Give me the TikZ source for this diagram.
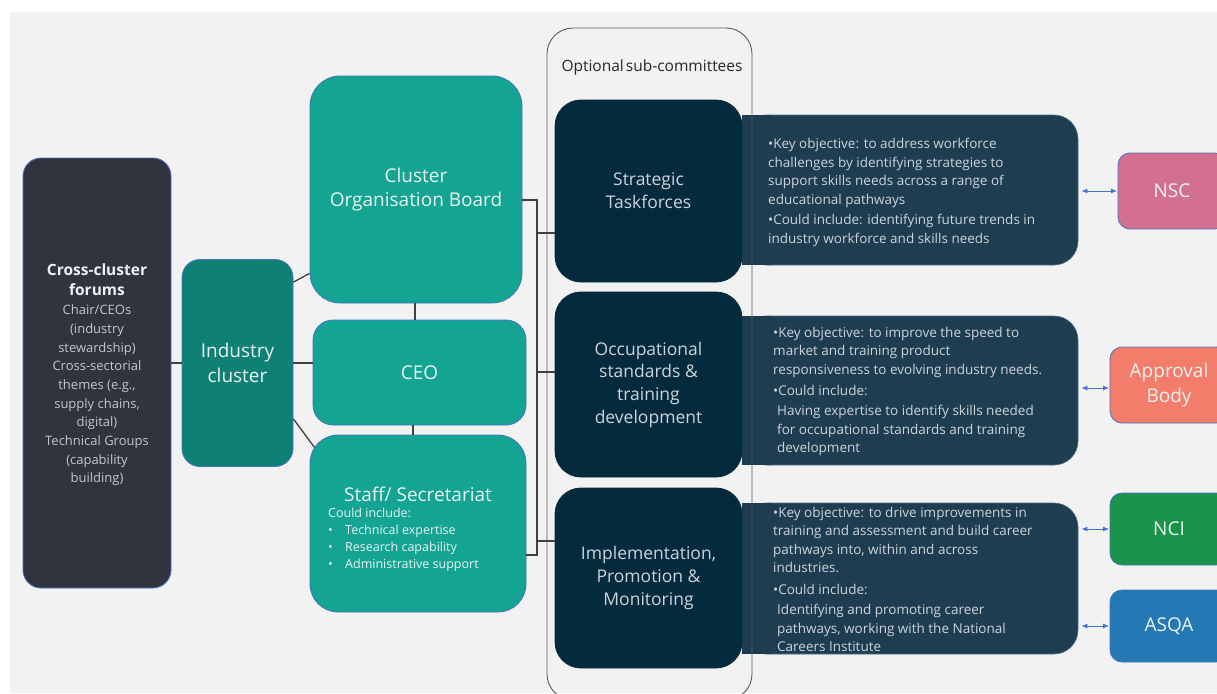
\documentclass[tikz,border=0pt]{standalone}
\usepackage{fontspec}
\setmainfont{Open Sans}
\usetikzlibrary{arrows.meta,calc}
\definecolor{bgc}{HTML}{F2F2F2}
\definecolor{ccfc}{HTML}{31343F}
\definecolor{icc}{HTML}{0F8174}
\definecolor{tealc}{HTML}{14A492}
\definecolor{subc}{HTML}{042A3D}
\definecolor{descc}{HTML}{1E3D50}
\definecolor{descedge}{HTML}{4A6E8E}
\definecolor{nscc}{HTML}{D4708F}
\definecolor{apc}{HTML}{F47C6B}
\definecolor{ncic}{HTML}{1C934A}
\definecolor{asqac}{HTML}{2479B4}
\definecolor{edgeblue}{HTML}{4472C4}
\definecolor{connc}{HTML}{404040}
\definecolor{contc}{HTML}{5A5A5A}
\definecolor{lighttext}{HTML}{EAF3F2}
\definecolor{greytext}{HTML}{C6C6C8}
\definecolor{desctext}{HTML}{CCD4DA}
\begin{document}
\begin{tikzpicture}[x=1pt,y=-1pt,
  box/.style={draw=edgeblue, line width=0.8pt, inner sep=0pt, align=center, text=lighttext},
  conn/.style={draw=connc, line width=1.3pt},
  link/.style={{Latex[length=6pt,width=5pt]}-{Latex[length=6pt,width=5pt]}, draw=edgeblue, line width=1pt, shorten <=3pt, shorten >=0.5pt},
  big/.style={font=\fontsize{19}{24.5}\selectfont},
  subfont/.style={font=\fontsize{17.5}{22.7}\selectfont},
  desctxt/.style={anchor=north west, inner sep=0pt, align=left, text=desctext, font=\fontsize{13.5}{18.5}\selectfont},
  descbox/.style={fill=descc, draw=descedge, line width=0.6pt, rounded corners=24pt, inner sep=0pt},
  subbox/.style={box, fill=subc, draw=subc, rounded corners=26pt, minimum width=187pt, text=desctext, subfont}
]
\useasboundingbox (0,0) rectangle (1217,693);
\clip (0,0) rectangle (1217,693);
\fill[white] (0,0) rectangle (1217,693);
\fill[bgc] (10,12) rectangle (1217,693);

% left column
\node[box, fill=ccfc, rounded corners=18pt, minimum width=148pt, minimum height=430pt] (ccf) at (97,373) {};
\node[align=center, inner sep=0pt, text=greytext, font=\fontsize{13}{18.7}\selectfont] (ccft) at (97,375)
 {{\color{lighttext}\bfseries\fontsize{15.5}{20}\selectfont Cross-cluster}\\[1.5pt]
  {\color{lighttext}\bfseries\fontsize{15.5}{20}\selectfont forums}\\
  Chair/CEOs\\(industry\\stewardship)\\Cross-sectorial\\themes (e.g.,\\supply chains,\\digital)\\Technical Groups\\(capability\\building)};

\node[box, fill=icc, rounded corners=18pt, minimum width=111pt, minimum height=207pt, big] (ic) at (237.5,363) {Industry\\cluster};

\node[box, fill=tealc, rounded corners=30pt, minimum width=212pt, minimum height=227pt, big] (cob) at (416,189.5) {Cluster\\Organisation Board};
\node[box, fill=tealc, rounded corners=20pt, minimum width=213pt, minimum height=105pt, big] (ceo) at (419.5,372.5) {CEO};
\node[box, fill=tealc, rounded corners=28pt, minimum width=216pt, minimum height=177pt] (staff) at (418,523.5) {};
\node[inner sep=0pt, text=lighttext, font=\fontsize{19}{22}\selectfont] (stafft) at (418,494) {Staff/ Secretariat};
\node[anchor=north west, inner sep=0pt, align=left, text=lighttext, font=\fontsize{12.5}{17}\selectfont] (staffl) at (328,508)
 {Could include:\\
  \makebox[17pt][l]{\textbullet}Technical expertise\\
  \makebox[17pt][l]{\textbullet}Research capability\\
  \makebox[17pt][l]{\textbullet}Administrative support};

% connectors on the left
\draw[conn] (ccf.east |- ic.west) -- (ic.west);
\draw[conn] ([yshift=-23pt]ic.north east) -- ([yshift=30pt]cob.south west);
\draw[conn] (ic.east) -- (ceo.west |- ic.east);
\draw[conn] ([yshift=48pt]ic.south east) -- ([xshift=5pt,yshift=-13pt]staff.north west);
\draw[conn] ([xshift=-1pt]cob.south) -- ([xshift=-1pt]cob.south |- ceo.north);
\draw[conn] ([xshift=-6.5pt]ceo.south) -- ([xshift=-6.5pt]ceo.south |- staff.north);

% description boxes
\node[descbox, minimum width=336pt, minimum height=150pt] (d1) at (910,190) {};
\fill[descc] (d1.north west) rectangle ([xshift=30pt]d1.south west);
\node[descbox, minimum width=336pt, minimum height=149pt] (d2) at (910,390.5) {};
\fill[descc] (d2.north west) rectangle ([xshift=30pt]d2.south west);
\node[descbox, minimum width=336pt, minimum height=151pt] (d3) at (910,578.5) {};
\fill[descc] (d3.north west) rectangle ([xshift=30pt]d3.south west);

% sub-committee boxes
\node[subbox, minimum height=182pt] (st) at (648.5,191) {Strategic\\Taskforces};
\node[subbox, minimum height=185pt] (osd) at (648.5,384.5) {Occupational\\standards \&\\training\\development};
\node[subbox, minimum height=180pt] (ipm) at (648.5,578) {Implementation,\\Promotion \&\\Monitoring};

% container
\node[draw=contc, line width=0.9pt, rounded corners=26pt, minimum width=205pt, minimum height=672pt, inner sep=0pt] (cont) at (649.5,364) {};
\node[inner sep=0pt, text=black!85, font=\fontsize{15.5}{18}\selectfont] (contl) at (652,67) {Optional\hspace{2pt}sub-committees};

% bracket
\coordinate (bt) at (537,200);
\coordinate (bb) at (537,555);
\draw[conn, line width=1.1pt] (cob.east |- bt) -- (bt) -- (bb) -- (staff.east |- bb);
\draw[conn, line width=1.1pt] (bt |- 0,233) -- (st.west |- 0,233);
\draw[conn, line width=1.1pt] (bt |- 0,372) -- (osd.west |- 0,372);
\draw[conn, line width=1.1pt] (bt |- 0,541) -- (ipm.west |- 0,541);

% description texts
\node[desctxt] (d1t) at (768,138)
 {\textbullet Key objective: to address workforce\\
  challenges by identifying strategies to\\
  support skills needs across a range of\\
  educational pathways\\[2pt]
  \textbullet Could include: identifying future trends in\\
  industry workforce and skills needs};
\node[desctxt] (d2t) at (773,327)
 {\textbullet Key objective: to improve the speed to\\
  market and training product\\
  responsiveness to evolving industry needs.\\[3pt]
  \textbullet Could include:\\[1.5pt]
  \hspace*{4pt}Having expertise to identify skills needed\\
  \hspace*{4pt}for occupational standards and training\\
  \hspace*{4pt}development};
\node[desctxt] (d3t) at (773,507)
 {\textbullet Key objective: to drive improvements in\\
  training and assessment and build career\\
  pathways into, within and across\\
  industries.\\[3pt]
  \textbullet Could include:\\[2pt]
  \hspace*{4pt}Identifying and promoting career\\
  \hspace*{4pt}pathways, working with the National\\
  \hspace*{4pt}Careers Institute};

% right boxes
\node[box, fill=nscc, rounded corners=12pt, minimum width=108pt, minimum height=76pt, big] (nsc) at (1172,191) {NSC};
\node[box, fill=apc, rounded corners=12pt, minimum width=118pt, minimum height=76pt, big] (ap) at (1169,385) {Approval\\Body};
\node[box, fill=ncic, rounded corners=12pt, minimum width=118pt, minimum height=72pt, big] (nci) at (1169,529) {NCI};
\node[box, fill=asqac, rounded corners=12pt, minimum width=118pt, minimum height=72pt, big] (asqa) at (1169,626) {ASQA};

\draw[link] (d1.east |- nsc.west) -- (nsc.west);
\draw[link] (d2.east |- 0,388) -- (ap.west |- 0,388);
\draw[link] (d3.east |- nci.west) -- (nci.west);
\draw[link] (d3.east |- asqa.west) -- (asqa.west);
\end{tikzpicture}
\end{document}
